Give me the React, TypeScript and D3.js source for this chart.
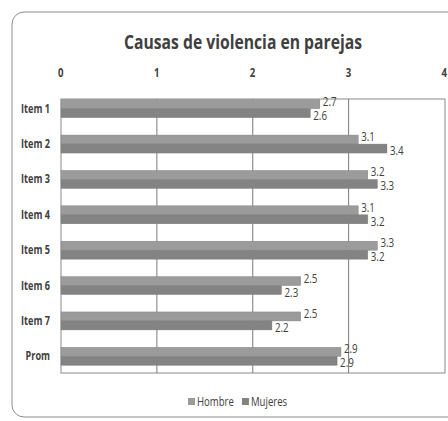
import React, { useRef, useEffect } from 'react';
import * as d3 from 'd3';

const categories = ['Item 1', 'Item 2', 'Item 3', 'Item 4', 'Item 5', 'Item 6', 'Item 7', 'Prom'];
const hombre = [2.7, 3.1, 3.2, 3.1, 3.3, 2.5, 2.5, 2.92];
const mujeres = [2.6, 3.4, 3.3, 3.2, 3.2, 2.3, 2.2, 2.88];
const xTicks = [0, 1, 2, 3, 4];
const seriesNames = ['Hombre', 'Mujeres'];
const seriesColors = ['#9b9b9b', '#838383'];

export default function App(): JSX.Element {
  const svgRef = useRef<SVGSVGElement>(null);

  useEffect(() => {
    const el = svgRef.current;
    if (el == null) return;
    document.body.style.margin = '0';
    const svg = d3.select(el);
    svg.selectAll('*').remove();

    const font = "'Open Sans', 'Noto Sans', sans-serif";
    const textColor = '#404040';

    // estrecha el texto para imitar una fuente condensada
    const squeeze = (sel: any, k: number) => {
      sel.each(function (this: SVGTextElement) {
        const len = this.getComputedTextLength();
        d3.select(this).attr('textLength', len * k).attr('lengthAdjust', 'spacingAndGlyphs');
      });
    };

    // marco exterior redondeado
    svg
      .append('rect')
      .attr('x', 12)
      .attr('y', 12)
      .attr('width', 460)
      .attr('height', 405)
      .attr('rx', 12)
      .attr('fill', '#fff')
      .attr('stroke', '#8c8c8c')
      .attr('stroke-width', 1);

    const plot = { left: 61, right: 445, top: 99, bottom: 373 };

    const x = d3.scaleLinear().domain([0, 4]).range([plot.left, 444.5]);
    const y = d3.scaleBand().domain(categories).range([91, 374]).paddingInner(0).paddingOuter(0);
    const barH = 9;

    // título
    const title = svg
      .append('text')
      .attr('x', 124)
      .attr('y', 49)
      .style('font-family', font)
      .style('font-size', '19px')
      .style('font-weight', 'bold')
      .attr('fill', textColor)
      .text('Causas de violencia en parejas');
    title.attr('textLength', 238).attr('lengthAdjust', 'spacingAndGlyphs');

    // área del gráfico
    svg
      .append('rect')
      .attr('x', plot.left)
      .attr('y', plot.top)
      .attr('width', plot.right - plot.left)
      .attr('height', plot.bottom - plot.top)
      .attr('fill', 'none')
      .attr('stroke', '#8a8a8a');

    // líneas de la cuadrícula
    svg
      .selectAll('line.grid')
      .data(xTicks.slice(1, 4))
      .join('line')
      .attr('class', 'grid')
      .attr('x1', (d) => x(d))
      .attr('x2', (d) => x(d))
      .attr('y1', plot.top)
      .attr('y2', plot.bottom)
      .attr('stroke', '#7a7a7a');

    // etiquetas del eje x (arriba)
    const xt = svg
      .selectAll('text.xtick')
      .data(xTicks)
      .join('text')
      .attr('class', 'xtick')
      .attr('x', (d) => x(d) - 3)
      .attr('y', 77)
      .style('font-family', font)
      .style('font-size', '12px')
      .style('font-weight', 'bold')
      .attr('fill', textColor)
      .text((d) => d);
    squeeze(xt, 0.8);

    // etiquetas de categorías
    const cats = svg
      .selectAll('text.cat')
      .data(categories)
      .join('text')
      .attr('class', 'cat')
      .attr('y', (d) => (y(d) as number) + y.bandwidth() / 2 + 4)
      .style('font-family', font)
      .style('font-size', '12px')
      .style('font-weight', 'bold')
      .attr('fill', textColor)
      .text((d) => d);
    cats.each(function (this: SVGTextElement) {
      const len = this.getComputedTextLength() * 0.76;
      d3.select(this).attr('x', 50 - len).attr('textLength', len).attr('lengthAdjust', 'spacingAndGlyphs');
    });

    const series = [hombre, mujeres];
    series.forEach((vals, si) => {
      const rows = categories.map((c, i) => ({ c, v: vals[i] }));
      const yOf = (c: string) => (y(c) as number) + y.bandwidth() / 2 - barH + si * barH;
      svg
        .selectAll(`rect.bar${si}`)
        .data(rows)
        .join('rect')
        .attr('class', `bar${si}`)
        .attr('x', x(0))
        .attr('y', (d) => yOf(d.c))
        .attr('width', (d) => x(d.v) - x(0))
        .attr('height', barH)
        .attr('fill', seriesColors[si])
        .attr('stroke', '#7d7d7d')
        .attr('stroke-width', 0.4);

      const labs = svg
        .selectAll(`text.lab${si}`)
        .data(rows)
        .join('text')
        .attr('class', `lab${si}`)
        .attr('x', (d) => x(d.v) + 3)
        .attr('y', (d) => yOf(d.c) + barH / 2 + 4 + (si === 0 ? -2.5 : 2.5))
        .style('font-family', font)
        .style('font-size', '12.5px')
        .attr('fill', textColor)
        .text((d) => d3.format('.1f')(d.v));
      squeeze(labs, 0.78);
    });

    // leyenda
    const legend = svg.append('g').attr('transform', 'translate(188, 406)');
    let lx = 0;
    seriesNames.forEach((name, i) => {
      legend
        .append('rect')
        .attr('x', lx)
        .attr('y', -8)
        .attr('width', 7)
        .attr('height', 7)
        .attr('fill', seriesColors[i]);
      const t = legend
        .append('text')
        .attr('x', lx + 9)
        .attr('y', 0)
        .style('font-family', font)
        .style('font-size', '12px')
        .attr('fill', textColor)
        .text(name);
      const len = (t.node() as SVGTextElement).getComputedTextLength() * 0.8;
      t.attr('textLength', len).attr('lengthAdjust', 'spacingAndGlyphs');
      lx += 9 + len + 8;
    });
  }, []);

  return <svg ref={svgRef} width={448} height={421} style={{ display: 'block', background: '#fff' }} />;
}
